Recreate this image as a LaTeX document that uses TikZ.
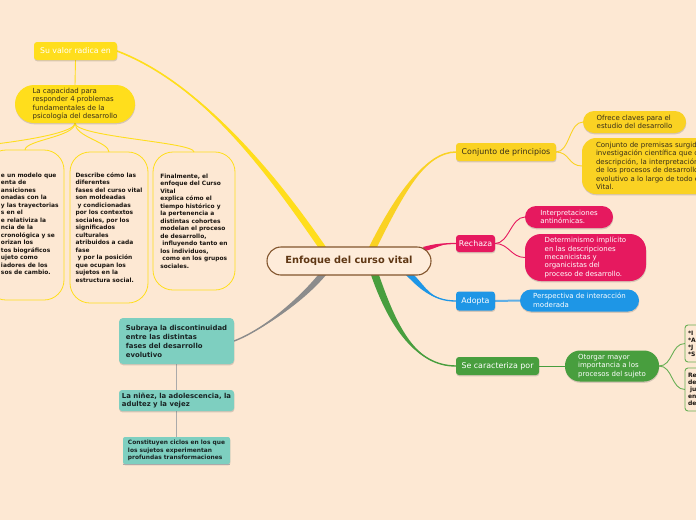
\documentclass[tikz,border=0pt]{standalone}
\usepackage{fontspec}
\setmainfont{DejaVu Sans}
\usetikzlibrary{calc,shadows}
\pgfdeclarelayer{bg}
\pgfsetlayers{bg,main}
\definecolor{bgc}{RGB}{253,232,211}
\definecolor{cfill}{RGB}{254,236,218}
\definecolor{brn}{RGB}{130,85,45}
\definecolor{ctxt}{RGB}{95,55,20}
\definecolor{yl}{RGB}{255,222,28}
\definecolor{yl2}{RGB}{250,210,35}
\definecolor{ytxt}{RGB}{55,45,25}
\definecolor{btxt}{RGB}{25,20,15}
\definecolor{pk}{RGB}{230,25,95}
\definecolor{bl}{RGB}{30,150,230}
\definecolor{bll}{RGB}{95,175,230}
\definecolor{gr}{RGB}{72,158,62}
\definecolor{grl}{RGB}{105,175,85}
\definecolor{tl}{RGB}{126,207,192}
\definecolor{ttxt}{RGB}{25,35,35}
\definecolor{gy}{RGB}{140,140,140}
\definecolor{gyl}{RGB}{170,170,170}
\begin{document}
\begin{tikzpicture}[x=1pt,y=-1pt,
  every node/.style={inner sep=0pt, outer sep=0pt, align=left},
  shad/.style={drop shadow={shadow xshift=0.3pt,shadow yshift=-1.3pt,opacity=0.22,fill=black!70}},
  sq/.style={rounded corners=3pt, shad},
  lbl/.style={font=\fontsize{7.9}{9.5}\selectfont},
  sml/.style={font=\fontsize{7}{8.7}\selectfont},
  ybox/.style={draw=yl, line width=0.8pt, rounded corners=20pt, text=btxt, font=\bfseries\fontsize{5.9}{7.5}\selectfont},
  gbox/.style={draw=grl, line width=0.9pt, fill=bgc, rounded corners=3pt, anchor=west, text width=54pt, inner xsep=3pt, text=btxt, font=\bfseries\fontsize{6}{7}\selectfont},
  tbox/.style={fill=tl, shad, text=ttxt}
]
\useasboundingbox (0,0) rectangle (696,520);
\begin{scope}
\clip (0,0) rectangle (696,520);
% central
\node[draw=brn, line width=1.1pt, fill=cfill, rounded corners=14pt, minimum width=164pt, minimum height=28pt, text=ctxt, font=\bfseries\fontsize{9.8}{11}\selectfont] (c) at (349,261) {Enfoque del curso vital};
% left yellow
\node[sq, fill=yl, minimum width=83pt, minimum height=18pt, text=white, font=\fontsize{7.8}{9}\selectfont] (sv) at (75.5,51) {Su valor radica en};
\node[shad, fill=yl, rounded corners=19pt, minimum width=120pt, minimum height=38pt, text=ytxt, font=\fontsize{7}{8.4}\selectfont] (cap) at (75,104) {La capacidad para\\responder 4 problemas\\fundamentales de la\\psicología del desarrollo};
\node[ybox, minimum width=78pt, minimum height=150pt] (b1) at (25,225) {};
\node[anchor=west, text=btxt, font=\bfseries\fontsize{5.9}{7.5}\selectfont] (t1) at (1,224) {e un modelo que\\enta de\\ansiciones\\onadas con la\\y las trayectorias\\s en el\\e relativiza la\\ncia de la\\cronológica y se\\orizan los\\tos biográficos\\ujeto como\\iadores de los\\sos de cambio.};
\node[ybox, minimum width=78pt, minimum height=151pt] (b2) at (109,227.5) {Describe cómo las\\diferentes\\fases del curso vital\\son moldeadas\\\hspace*{2pt}y condicionadas\\por los contextos\\sociales, por los\\significados\\culturales\\atribuidos a cada\\fase\\\hspace*{2pt}y por la posición\\que ocupan los\\sujetos en la\\estructura social.};
\node[ybox, minimum width=82pt, minimum height=138pt] (b3) at (194,221) {Finalmente, el\\enfoque del Curso\\Vital\\explica cómo el\\tiempo histórico y\\la pertenencia a\\distintas cohortes\\modelan el proceso\\de desarrollo,\\\hspace*{2pt}influyendo tanto en\\los individuos,\\\hspace*{2pt}como en los grupos\\sociales.};
\coordinate (b0) at (-70,150);
% teal
\node[tbox, rounded corners=4pt, minimum width=115pt, minimum height=46pt, font=\bfseries\fontsize{6.9}{9}\selectfont] (sub) at (176.5,341) {Subraya la discontinuidad\\entre las distintas\\fases del desarrollo\\evolutivo};
\node[tbox, rounded corners=3pt, minimum width=115pt, minimum height=21pt, font=\bfseries\fontsize{6.9}{8}\selectfont] (nin) at (176.5,400.5) {La niñez, la adolescencia, la\\adultez y la vejez};
\node[tbox, rounded corners=2pt, minimum width=107pt, minimum height=27pt, font=\bfseries\fontsize{5.9}{7.7}\selectfont] (con) at (176.5,450.5) {Constituyen ciclos en los que\\los sujetos experimentan\\profundas transformaciones};
\draw[gyl, line width=0.9pt] (con.south west) -- (con.south east);
% right yellow
\node[sq, fill=yl2, minimum width=100pt, minimum height=18pt, text=ytxt, lbl] (cp) at (506,152) {Conjunto de principios};
\node[shad, fill=yl2, rounded corners=11pt, minimum width=103pt, minimum height=22pt, text=ytxt, sml] (ofr) at (634.5,122) {Ofrece claves para el\\estudio del desarrollo};
\node[shad, fill=yl2, rounded corners=14pt, anchor=west, text width=140pt, inner xsep=14pt, minimum height=56pt, text=ytxt, font=\fontsize{7}{8.5}\selectfont] (prem) at (582,166) {Conjunto de premisas surgido\\investigación científica que c\\descripción, la interpretación\\de los procesos de desarrollo\\evolutivo a lo largo de todo e\\Vital.};
% pink
\node[sq, fill=pk, minimum width=39pt, minimum height=17pt, text=white, lbl] (rech) at (475.5,243.5) {Rechaza};
\node[shad, fill=pk, rounded corners=11pt, minimum width=88pt, minimum height=22pt, text=white, sml] (int) at (569,217) {Interpretaciones\\antinómicas.};
\node[shad, fill=pk, rounded corners=16pt, minimum width=121pt, minimum height=47pt, text=white, font=\fontsize{7}{8.3}\selectfont] (det) at (585.5,257.5) {Determinismo implícito\\en las descripciones\\mecanicistas y\\organicistas del\\proceso de desarrollo.};
% blue
\node[sq, fill=bl, minimum width=39pt, minimum height=19pt, text=white, lbl] (ado) at (475.5,301) {Adopta};
\node[shad, fill=bl, rounded corners=11pt, minimum width=119pt, minimum height=22pt, text=white, sml] (per) at (579.5,300.5) {Perspectiva de interacción\\moderada};
% green
\node[sq, fill=gr, minimum width=83pt, minimum height=18pt, text=white, lbl] (se) at (497.5,366) {Se caracteriza por};
\node[shad, fill=gr, rounded corners=15pt, minimum width=94pt, minimum height=31pt, text=white, font=\fontsize{7}{8.3}\selectfont] (oto) at (612,366) {Otorgar mayor\\importancia a los\\procesos del sujeto};
\node[gbox, minimum height=37pt] (bA) at (685,343.5) {*I\\{}*A\\{}*J\\{}*S};
\node[gbox, minimum height=43pt] (bB) at (685,389.5) {Re\\de\\\hspace*{2pt}ju\\en\\de};
\end{scope}
\begin{pgfonlayer}{bg}
\clip (0,0) rectangle (696,520);
\fill[bgc] (0,0) rectangle (696,520);
% main tapered branches
\fill[yl] ($(c.north)+(-23,0)$) .. controls +(-51,-74) and +(84,32) .. (sv.east) .. controls +(84,32) and +(-51,-74) .. ($(c.north)+(-31,0)$) -- cycle;
\draw[yl, line width=1.6pt] ($(c.north)+(-27,0)$) .. controls +(-51,-74) and +(84,32) .. (sv.east);
\fill[yl2] ($(c.north)+(20,0)$) .. controls +(27,-54) and +(-30,0) .. (cp.west) .. controls +(-30,0) and +(27,-54) .. ($(c.north)+(28,0)$) -- cycle;
\draw[yl2, line width=1.5pt] ($(c.north)+(24,0)$) .. controls +(27,-54) and +(-30,0) .. (cp.west);
\fill[pk] ($(c.east)+(-8,-14)$) .. controls +(15,-4) and +(-15,0) .. (rech.west) .. controls +(-15,0) and +(15,-4) .. ($(c.east)+(-6,-10)$) -- cycle;
\draw[pk, line width=1.3pt] ($(c.east)+(-7,-12)$) .. controls +(15,-4) and +(-15,0) .. (rech.west);
\fill[bl] ($(c.south)+(57,0)$) .. controls +(12,12) and +(-25,0) .. (ado.west) .. controls +(-25,0) and +(12,12) .. ($(c.south)+(65,0)$) -- cycle;
\draw[bl, line width=1.3pt] ($(c.south)+(61,0)$) .. controls +(12,12) and +(-25,0) .. (ado.west);
\fill[gr] ($(c.south)+(22,0)$) .. controls +(18,52) and +(-40,0) .. (se.west) .. controls +(-40,0) and +(18,52) .. ($(c.south)+(30,0)$) -- cycle;
\draw[gr, line width=1.4pt] ($(c.south)+(26,0)$) .. controls +(18,52) and +(-40,0) .. (se.west);
\fill[gy] ($(c.south)+(-23,0)$) .. controls +(-25,30) and +(22,-8) .. (sub.east) .. controls +(22,-8) and +(-25,30) .. ($(c.south)+(-31,0)$) -- cycle;
\draw[gy, line width=1.4pt] ($(c.south)+(-27,0)$) .. controls +(-25,30) and +(22,-8) .. (sub.east);
% secondary
\draw[yl, line width=0.9pt] (sv.south) -- (cap.north);
\draw[yl, line width=0.9pt] (cap.south) .. controls +(0,14) and +(40,-2) .. (b0);
\foreach \b in {b1,b2,b3} \draw[yl, line width=0.9pt] (cap.south) .. controls +(0,14) and +(0,-10) .. (\b.north);
\draw[yl2, line width=0.9pt] (cp.east) .. controls +(14,0) and +(-14,0) .. (ofr.west);
\draw[yl2, line width=0.9pt] (cp.east) .. controls +(14,0) and +(-14,0) .. (prem.west);
\draw[pk, line width=0.9pt] (rech.east) .. controls +(14,0) and +(-14,0) .. (int.west);
\draw[pk, line width=0.9pt] (rech.east) .. controls +(14,0) and +(-14,0) .. (det.west);
\draw[bll, line width=2pt] (ado.east) -- (per.west);
\draw[gr, line width=1pt] (se.east) -- (oto.west);
\draw[grl, line width=0.9pt] (oto.east) .. controls +(14,0) and +(-14,0) .. (bA.west);
\draw[grl, line width=0.9pt] (oto.east) .. controls +(14,0) and +(-14,0) .. (bB.west);
\draw[gyl, line width=1.3pt] (sub.south) -- (nin.north);
\draw[gyl, line width=1.3pt] (nin.south) -- (con.north);
\end{pgfonlayer}
\end{tikzpicture}
\end{document}
